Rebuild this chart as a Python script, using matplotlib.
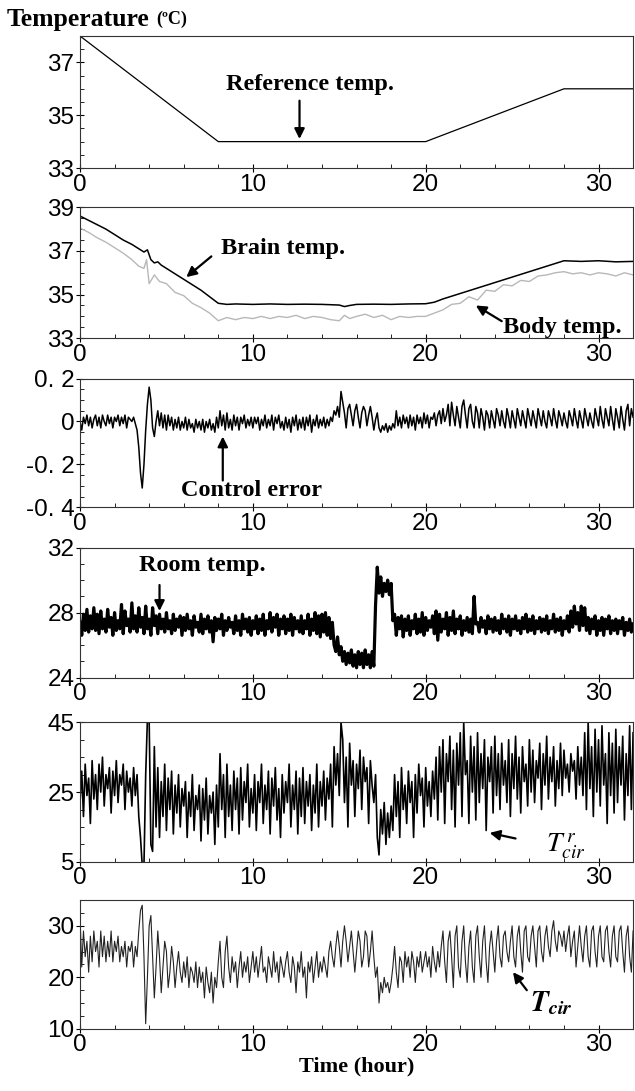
import numpy as np
import matplotlib
matplotlib.use('Agg')
import matplotlib.pyplot as plt
from matplotlib.ticker import MultipleLocator

plt.rcParams['mathtext.fontset'] = 'stix'

TICK_FONT = ['Liberation Sans Narrow', 'Liberation Sans', 'DejaVu Sans']
LABEL_FONT = ['Liberation Serif', 'DejaVu Serif']

# ---- reference temperature (set points) ----
ref_t = [0, 8, 20, 28, 32]
ref_temp = [38.0, 34.0, 34.0, 36.0, 36.0]

# ---- brain / body temperature ----
brain_t = [0, 0.5, 1, 1.5, 2, 2.5, 3, 3.5, 3.7, 3.9, 4.1, 4.3, 4.5, 4.7, 5, 5.5, 6, 6.5,
           7, 7.5, 8, 8.5, 9, 10, 11, 12, 13, 14, 15, 15.3, 15.6, 16, 17, 18, 19, 20,
           20.5, 21, 22, 23, 24, 25, 26, 27, 27.8, 28, 29, 30, 31, 32]
brain_temp = [38.6, 38.4, 38.2, 38.0, 37.75, 37.5, 37.3, 37.05, 36.95, 37.05, 36.6, 36.45,
              36.5, 36.35, 36.2, 35.95, 35.7, 35.45, 35.2, 34.9, 34.6, 34.55, 34.57, 34.55,
              34.57, 34.55, 34.56, 34.55, 34.52, 34.45, 34.5, 34.55, 34.56, 34.55, 34.57,
              34.58, 34.65, 34.8, 35.05, 35.3, 35.55, 35.8, 36.05, 36.3, 36.5, 36.55, 36.52,
              36.55, 36.5, 36.52]

body_t = [0, 0.5, 1, 1.5, 2, 2.5, 3, 3.4, 3.7, 3.85, 4.0, 4.3, 4.6, 5, 5.5, 6, 6.5, 7, 7.5,
          8, 8.5, 9, 9.5, 10, 10.5, 11, 11.5, 12, 12.5, 13, 13.5, 14, 14.5, 15, 15.3, 15.6,
          16, 16.5, 17, 17.5, 18, 18.5, 19, 19.5, 20, 20.5, 21, 21.5, 22, 22.5, 23, 23.5,
          24, 24.5, 25, 25.5, 26, 26.5, 27, 27.5, 28, 28.5, 29, 29.5, 30, 30.5, 31, 31.5, 32]
body_temp = [38.05, 37.85, 37.6, 37.4, 37.15, 36.9, 36.6, 36.3, 36.2, 36.6, 35.5, 35.9, 35.6,
             35.5, 35.1, 34.95, 34.6, 34.4, 34.15, 33.8, 33.95, 33.85, 33.95, 33.9, 34.0,
             33.9, 34.0, 33.95, 34.05, 33.9, 34.0, 33.95, 33.85, 33.8, 34.05, 33.9, 34.0,
             34.1, 33.95, 34.05, 33.85, 34.0, 33.95, 34.0, 34.0, 34.15, 34.3, 34.55, 34.6,
             34.9, 34.75, 35.2, 35.15, 35.45, 35.4, 35.65, 35.6, 35.85, 35.9, 36.0, 36.05,
             35.95, 36.0, 35.9, 36.0, 35.95, 35.85, 36.0, 35.9]

# ---- sampled every 0.1 hour, one row per hour ----
control_error = [
    0.00, -0.04, 0.02, -0.01, 0.03, -0.02, 0.02, -0.03, 0.01, 0.03,
    -0.02, 0.02, -0.03, 0.03, 0.00, -0.02, 0.03, -0.01, 0.02, -0.03,
    0.02, 0.00, 0.03, -0.02, 0.02, -0.01, 0.03, -0.03, 0.02, 0.01,
    0.00, 0.02, -0.01, -0.04, -0.12, -0.24, -0.31, -0.20, -0.04, 0.08,
    0.16, 0.10, -0.03, -0.07, 0.00, 0.05, -0.02, 0.04, -0.03, 0.03,
    -0.04, 0.03, -0.02, 0.02, -0.04, 0.01, -0.03, 0.02, -0.04, 0.00,
    -0.03, 0.02, -0.04, 0.01, -0.03, -0.01, -0.05, 0.01, -0.03, 0.00,
    -0.04, 0.01, -0.05, 0.00, -0.03, 0.01, -0.04, -0.01, -0.05, 0.02,
    -0.03, 0.05, -0.02, 0.03, -0.04, 0.04, -0.03, 0.01, -0.04, 0.03,
    -0.02, 0.02, -0.04, 0.02, -0.01, 0.03, -0.03, 0.01, -0.02, 0.02,
    -0.03, 0.02, -0.01, 0.02, -0.04, 0.01, -0.02, 0.03, -0.03, 0.01,
    -0.02, 0.03, -0.04, 0.02, -0.01, 0.03, -0.03, 0.00, -0.04, 0.02,
    -0.03, 0.01, -0.05, 0.02, -0.02, 0.03, -0.04, 0.01, -0.03, 0.02,
    -0.04, 0.02, -0.02, 0.03, -0.05, 0.01, -0.02, 0.03, -0.03, 0.01,
    -0.02, 0.02, -0.03, 0.01, -0.02, 0.02, 0.00, 0.05, 0.03, 0.07,
    0.02, 0.14, 0.09, 0.04, -0.03, 0.06, 0.08, 0.03, -0.02, 0.05,
    0.08, 0.02, -0.03, 0.04, 0.07, 0.05, -0.02, 0.03, 0.07, 0.02,
    -0.04, 0.01, 0.04, -0.03, -0.05, -0.02, -0.04, -0.01, -0.05, -0.02,
    -0.04, -0.01, -0.03, 0.05, -0.02, 0.02, -0.03, 0.03, -0.01, 0.02,
    -0.03, 0.03, -0.02, 0.02, -0.04, 0.03, -0.01, 0.02, -0.03, 0.04,
    -0.01, 0.03, -0.03, 0.02, 0.01, 0.04, -0.02, 0.03, 0.05, -0.01,
    0.06, 0.00, 0.03, 0.08, -0.02, 0.09, 0.03, -0.02, 0.07, 0.02,
    -0.03, 0.07, 0.10, 0.03, -0.03, 0.06, 0.08, 0.00, -0.03, 0.07,
    0.04, -0.03, 0.06, 0.02, -0.04, 0.05, 0.03, -0.03, 0.05, 0.01,
    -0.03, 0.06, 0.03, -0.02, 0.05, 0.00, -0.03, 0.06, 0.02, -0.03,
    0.05, 0.01, -0.03, 0.06, 0.02, -0.02, 0.05, 0.01, -0.03, 0.06,
    0.02, -0.02, 0.05, 0.01, -0.03, 0.06, 0.02, -0.02, 0.05, 0.00,
    -0.03, 0.05, 0.02, -0.02, 0.06, 0.01, -0.03, 0.05, 0.02, -0.02,
    0.04, 0.00, -0.03, 0.05, 0.02, -0.02, 0.06, 0.01, -0.03, 0.05,
    0.01, -0.03, 0.06, 0.02, -0.02, 0.04, 0.00, -0.03, 0.06, 0.02,
    -0.02, 0.07, 0.01, -0.03, 0.06, 0.02, -0.02, 0.07, 0.01, -0.04,
    0.06, 0.02, -0.03, 0.07, 0.01, -0.04, 0.05, 0.08, -0.02, 0.06,
    0.02]

room_temp = [
    27.4, 26.6, 27.9, 26.9, 28.2, 26.8, 27.8, 27.0, 28.3, 26.9,
    27.9, 26.7, 28.1, 27.0, 27.6, 26.8, 28.2, 27.1, 27.7, 26.6,
    28.0, 26.9, 27.5, 27.0, 28.5, 26.7, 28.1, 27.2, 27.6, 26.8,
    28.6, 27.0, 27.8, 26.8, 28.3, 27.1, 27.7, 26.7, 28.4, 27.0,
    27.6, 26.6, 28.3, 27.2, 27.8, 26.7, 27.9, 27.0, 27.6, 26.8,
    28.0, 27.0, 27.5, 26.7, 27.9, 26.9, 27.6, 27.1, 27.8, 26.6,
    27.7, 26.9, 27.9, 27.0, 27.5, 26.6, 27.8, 27.1, 27.4, 26.8,
    27.9, 26.7, 27.6, 27.0, 27.8, 26.8, 27.5, 26.2, 27.7, 26.9,
    27.6, 27.0, 27.9, 26.6, 27.5, 26.9, 27.7, 27.1, 27.4, 26.7,
    27.8, 26.9, 27.5, 26.6, 27.9, 27.0, 27.6, 26.8, 27.7, 26.6,
    27.5, 27.0, 27.8, 26.7, 27.6, 26.9, 27.9, 26.6, 27.5, 27.0,
    28.0, 26.8, 27.7, 27.1, 27.9, 26.6, 27.6, 27.0, 27.8, 26.7,
    27.6, 26.9, 27.9, 26.6, 27.7, 27.0, 27.5, 26.8, 27.8, 26.7,
    27.5, 27.0, 27.9, 26.6, 27.6, 26.9, 28.0, 26.7, 27.8, 26.5,
    27.9, 26.8, 28.0, 26.6, 27.7, 26.4, 27.4, 26.0, 25.6, 26.5,
    25.4, 25.9, 25.0, 25.6, 24.8, 25.5, 24.9, 25.7, 24.7, 25.4,
    24.6, 25.6, 24.8, 25.5, 24.6, 25.7, 24.8, 25.4, 24.6, 25.6,
    24.7, 28.5, 30.8, 29.2, 30.2, 29.0, 29.8, 29.3, 30.0, 29.1,
    29.8, 27.5, 27.9, 26.6, 27.7, 27.0, 27.8, 26.5, 27.6, 26.9,
    27.8, 26.6, 27.5, 27.0, 27.9, 26.7, 27.6, 26.8, 28.0, 26.6,
    27.7, 26.9, 27.5, 27.1, 27.8, 26.7, 28.1, 26.3, 27.9, 26.8,
    27.6, 27.0, 28.0, 26.6, 27.7, 26.9, 28.1, 26.7, 27.6, 27.0,
    27.8, 26.6, 27.5, 26.9, 27.7, 26.8, 27.6, 26.7, 29.0, 27.3,
    27.4, 26.8, 27.7, 27.1, 27.5, 26.7, 27.8, 27.0, 27.6, 26.8,
    27.7, 26.9, 27.5, 26.7, 27.9, 27.0, 27.6, 26.8, 27.8, 26.6,
    27.6, 27.0, 27.8, 26.9, 27.5, 26.7, 27.7, 27.0, 27.9, 26.8,
    27.6, 26.9, 27.8, 26.7, 27.5, 27.0, 27.7, 26.8, 27.6, 26.9,
    27.8, 26.7, 27.5, 27.0, 27.9, 26.8, 27.6, 26.9, 27.7, 26.6,
    27.5, 27.0, 27.8, 26.8, 28.1, 27.1, 28.4, 27.3, 28.0, 26.9,
    28.4, 27.2, 28.3, 26.9, 27.7, 26.7, 27.6, 27.0, 27.8, 26.6,
    27.5, 26.9, 27.7, 26.6, 27.6, 27.0, 27.8, 26.7, 27.5, 26.9,
    27.6, 26.7, 27.5, 27.0, 27.7, 26.6, 27.4, 26.9, 27.6, 26.8,
    27.3]

tcir_ref = [
    22, 31, 18, 33, 24, 29, 16, 34, 23, 30,
    20, 33, 25, 35, 21, 30, 26, 32, 19, 31,
    24, 34, 22, 30, 27, 33, 20, 31, 25, 29,
    21, 32, 24, 30, 18, 12, 4, 4, 30, 46,
    46, 10, 8, 38, 15, 32, 12, 28, 18, 33,
    14, 29, 20, 31, 13, 27, 19, 30, 15, 26,
    21, 28, 12, 25, 18, 30, 14, 24, 20, 27,
    11, 26, 17, 29, 13, 24, 19, 25, 10, 27,
    15, 36, 20, 30, 12, 33, 18, 27, 14, 31,
    20, 29, 13, 32, 17, 28, 22, 33, 15, 26,
    19, 30, 14, 28, 22, 33, 16, 27, 20, 31,
    13, 29, 21, 32, 17, 26, 12, 30, 19, 28,
    22, 33, 15, 27, 20, 31, 13, 29, 18, 32,
    16, 28, 21, 30, 14, 27, 19, 33, 15, 28,
    21, 31, 17, 29, 23, 33, 15, 38, 27, 36,
    24, 45, 40, 22, 35, 15, 39, 27, 34, 18,
    33, 26, 37, 20, 35, 28, 32, 16, 34, 27,
    22, 30, 12, 7, 20, 13, 22, 10, 19, 12,
    21, 14, 30, 18, 28, 12, 32, 20, 27, 16,
    31, 22, 28, 12, 30, 19, 33, 24, 29, 15,
    32, 21, 28, 18, 31, 23, 35, 17, 38, 25,
    40, 16, 36, 28, 41, 20, 37, 15, 39, 27,
    42, 18, 45, 30, 34, 16, 41, 25, 38, 17,
    42, 22, 36, 26, 40, 14, 35, 28, 38, 19,
    41, 24, 36, 20, 39, 27, 34, 22, 40, 18,
    36, 26, 41, 23, 35, 19, 38, 28, 33, 21,
    40, 25, 37, 22, 34, 29, 39, 20, 36, 27,
    41, 23, 35, 28, 38, 21, 34, 26, 39, 24,
    37, 29, 33, 25, 36, 31, 34, 23, 38, 27,
    35, 24, 42, 20, 45, 26, 38, 18, 43, 25,
    40, 21, 44, 27, 36, 16, 42, 24, 39, 19,
    43, 22, 38, 27, 41, 17, 36, 24, 44, 20,
    42]

tcir = [
    32, 22, 29, 24, 27, 21, 28, 23, 29, 25,
    27, 22, 29, 24, 28, 23, 27, 24, 29, 23,
    27, 25, 28, 23, 26, 24, 27, 22, 26, 25,
    27, 22, 26, 24, 29, 33, 34, 24, 11, 20,
    30, 32, 24, 16, 22, 29, 24, 17, 22, 27,
    25, 18, 21, 26, 23, 18, 22, 25, 21, 19,
    23, 20, 24, 18, 22, 21, 19, 23, 18, 22,
    19, 21, 16, 22, 19, 17, 21, 15, 20, 18,
    23, 27, 20, 18, 25, 28, 22, 19, 24, 21,
    23, 18, 22, 25, 20, 23, 21, 24, 19, 22,
    25, 21, 24, 20, 23, 26, 21, 22, 19, 24,
    22, 20, 25, 21, 23, 19, 24, 22, 20, 23,
    25, 21, 19, 24, 22, 17, 23, 21, 25, 20,
    22, 16, 23, 21, 24, 19, 22, 25, 20, 23,
    21, 24, 22, 20, 25, 27, 24, 22, 26, 29,
    26, 22, 27, 30, 27, 23, 26, 29, 25, 21,
    25, 29, 27, 22, 24, 29, 28, 22, 25, 29,
    24, 20, 22, 15, 19, 17, 20, 18, 19, 17,
    19, 22, 26, 21, 18, 24, 23, 19, 25, 22,
    24, 20, 25, 23, 19, 24, 22, 25, 21, 23,
    25, 22, 24, 20, 26, 23, 21, 25, 22, 26,
    29, 23, 19, 27, 29, 24, 18, 28, 30, 22,
    20, 27, 30, 23, 19, 26, 29, 22, 19, 28,
    30, 24, 20, 27, 30, 23, 19, 26, 29, 25,
    21, 27, 30, 24, 22, 28, 29, 25, 23, 27,
    30, 24, 22, 28, 30, 25, 21, 29, 30, 24,
    23, 28, 30, 26, 22, 29, 30, 25, 23, 28,
    30, 26, 24, 29, 31, 27, 25, 29, 28, 26,
    29, 25, 28, 30, 24, 27, 29, 22, 26, 30,
    26, 23, 28, 30, 24, 22, 29, 30, 25, 22,
    28, 30, 24, 23, 29, 30, 25, 22, 28, 30,
    24, 23, 29, 30, 25, 21, 28, 30, 24, 21,
    29]

t_fine = np.linspace(0, 32, len(control_error))

x_ticks = [0, 10, 20, 30]


def setup_axis(ax, ylim, yticks, yticklabels=None, yminor=None):
    ax.set_xlim(0, 32)
    ax.set_ylim(*ylim)
    ax.set_xticks(x_ticks)
    ax.set_yticks(yticks)
    if yticklabels is not None:
        ax.set_yticklabels(yticklabels)
    ax.xaxis.set_minor_locator(MultipleLocator(2))
    if yminor is not None:
        ax.yaxis.set_minor_locator(MultipleLocator(yminor))
    ax.tick_params(which='major', direction='inout', length=6, width=0.8,
                   labelsize=17.5, pad=1)
    ax.tick_params(which='minor', direction='in', length=3, width=0.6)
    for lab in ax.get_xticklabels() + ax.get_yticklabels():
        lab.set_family(TICK_FONT)
    for sp in ax.spines.values():
        sp.set_linewidth(0.8)
        sp.set_color('#333333')


def arrow(ax, tail, head):
    ax.annotate('', xy=head, xytext=tail,
                arrowprops=dict(arrowstyle='-|>', color='black', lw=1.6,
                                mutation_scale=15, shrinkA=0, shrinkB=0))


def label(ax, x, y, s, size=17.5):
    ax.text(x, y, s, ha='center', va='center', fontsize=size,
            fontweight='bold', family=LABEL_FONT)


fig = plt.figure(figsize=(6.35, 10.91), dpi=100)
left, width = 0.126, 0.871
ax1 = fig.add_axes([left, 0.846, width, 0.121])
ax2 = fig.add_axes([left, 0.690, width, 0.120])
ax3 = fig.add_axes([left, 0.535, width, 0.118])
ax4 = fig.add_axes([left, 0.379, width, 0.119])
ax5 = fig.add_axes([left, 0.210, width, 0.128])
ax6 = fig.add_axes([left, 0.057, width, 0.118])

# reference temperature
ax1.plot(ref_t, ref_temp, color='black', lw=0.9)
setup_axis(ax1, (33, 38), [33, 35, 37], yminor=0.5)
label(ax1, 13.3, 36.15, 'Reference temp.')
arrow(ax1, (12.7, 35.55), (12.7, 34.1))

# brain and body temperature
ax2.plot(body_t, body_temp, color='#b8b8b8', lw=1.0)
ax2.plot(brain_t, brain_temp, color='black', lw=1.1)
setup_axis(ax2, (33, 39), [33, 35, 37, 39], yminor=0.5)
label(ax2, 11.75, 37.1, 'Brain temp.')
arrow(ax2, (7.6, 36.75), (6.15, 35.8))
label(ax2, 27.9, 33.5, 'Body temp.')
arrow(ax2, (24.4, 33.78), (22.9, 34.5))

# control error
ax3.plot(t_fine, control_error, color='black', lw=1.1)
setup_axis(ax3, (-0.4, 0.2), [-0.4, -0.2, 0, 0.2],
           ['-0. 4', '-0. 2', '0', '0. 2'], yminor=0.05)
label(ax3, 9.9, -0.32, 'Control error')
arrow(ax3, (8.26, -0.275), (8.26, -0.07))

# room temperature
ax4.plot(t_fine, room_temp, color='black', lw=2.3)
setup_axis(ax4, (24, 32), [24, 28, 32], yminor=1)
label(ax4, 7.1, 30.9, 'Room temp.')
arrow(ax4, (4.6, 29.7), (4.6, 28.1))

# reference circulating water temperature
ax5.plot(t_fine, tcir_ref, color='black', lw=1.2)
setup_axis(ax5, (5, 45), [5, 25, 45], yminor=5)
arrow(ax5, (25.2, 11.7), (23.7, 13.3))
ax5.text(28.1, 9.3, r'$T^{\,r}_{cir}$', ha='center', va='center', fontsize=20)

# circulating water temperature
ax6.plot(t_fine, tcir, color='#222222', lw=0.8)
setup_axis(ax6, (10, 35), [10, 20, 30], yminor=2.5)
arrow(ax6, (25.85, 17.5), (25.05, 21.0))
ax6.text(27.3, 14.9, r'$\mathbfit{T}_{\mathbfit{cir}}$', ha='center',
         va='center', fontsize=21)
ax6.set_xlabel('Time (hour)', fontsize=16, fontweight='bold',
               family=LABEL_FONT, labelpad=0)

# common y label
fig.text(0.010, 0.982, 'Temperature', fontsize=18.5, fontweight='bold',
         family=LABEL_FONT, va='center', ha='left')
fig.text(0.246, 0.982, '(ºC)', fontsize=13, fontweight='bold',
         family=LABEL_FONT, va='center', ha='left')

fig.savefig('out.png', dpi=100)
